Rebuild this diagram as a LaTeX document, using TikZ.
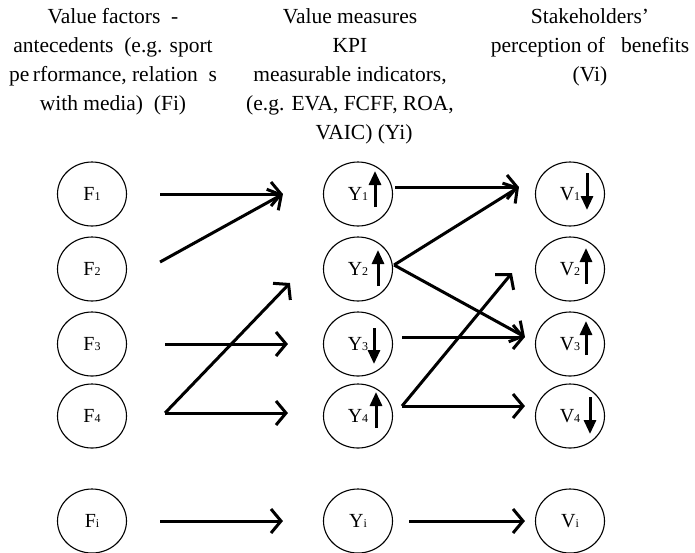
\documentclass[tikz,border=0pt]{standalone}
\usepackage{fontspec}
\setmainfont{Liberation Serif}
\usepackage{tikz}
\usetikzlibrary{shapes.geometric}
\usetikzlibrary{arrows.meta,arrows}

\tikzset{
  valnode/.style={draw, ellipse, line width=1.1pt, minimum width=69pt, minimum height=64pt, inner sep=0pt, font=\fontsize{20}{21}\selectfont},
  flow/.style={line width=3pt, -{Straight Barb[length=10pt,width=24pt,line width=3pt]}},
  trend/.style={line width=3pt, -{Triangle[length=14pt,width=12pt]}},
  head/.style={align=center, anchor=north, inner sep=0pt, font=\fontsize{21.5}{29}\selectfont}
}
\newcommand{\nsub}[1]{{\fontsize{12}{12}\selectfont #1}}

\begin{document}
\begin{tikzpicture}[x=1pt,y=-1pt]
    \useasboundingbox (0,0) rectangle (695,552);
    % Column Headings
    \node[head] (hf) at (113,8) {Value factors\ \ -\\antecedents\ \ (e.g. sport\\pe\,rformance, relation\ \ s\\with media)\ \ (Fi)};
    \node[head] (hy) at (350,8) {Value measures\\KPI\\measurable indicators,\\(e.g. EVA, FCFF, ROA,\\\hspace*{28pt}VAIC) (Yi)};
    \node[head] (hv) at (590,8) {Stakeholders’\\perception of\ \ \ benefits\\(Vi)};
    % Value Factors
    \node[valnode] (F1) at (92,194) {F\nsub{1}\hspace{6pt}};
    \node[valnode] (F2) at (92,269) {F\nsub{2}\hspace{6pt}};
    \node[valnode] (F3) at (92,344) {F\nsub{3}\hspace{6pt}};
    \node[valnode] (F4) at (92,416) {F\nsub{4}\hspace{6pt}};
    \node[valnode] (Fi) at (92,521) {F\nsub{i}\hspace{6pt}};
    % Value Measures
    \node[valnode] (Y1) at (358,194) {Y\nsub{1}\hspace{10pt}};
    \node[valnode] (Y2) at (358,269) {Y\nsub{2}\hspace{10pt}};
    \node[valnode] (Y3) at (358,344) {Y\nsub{3}\hspace{10pt}};
    \node[valnode] (Y4) at (358,416) {Y\nsub{4}\hspace{10pt}};
    \node[valnode] (Yi) at (358,521) {Y\nsub{i}};
    % Perceived Benefits
    \node[valnode] (V1) at (570,194) {V\nsub{1}\hspace{10pt}};
    \node[valnode] (V2) at (570,269) {V\nsub{2}\hspace{10pt}};
    \node[valnode] (V3) at (570,344) {V\nsub{3}\hspace{10pt}};
    \node[valnode] (V4) at (570,416) {V\nsub{4}\hspace{10pt}};
    \node[valnode] (Vi) at (570,521) {V\nsub{i}};
    %
    % Trends Inside the Nodes
    \draw[ trend] ([shift={(17,13)}]Y1.center) -- ++(0,-36);
    \draw[ trend] ([shift={(20,17)}]Y2.center) -- ++(0,-36);
    \draw[ trend] ([shift={(16,-16)}]Y3.center) -- ++(0,36);
    \draw[ trend] ([shift={(18,12)}]Y4.center) -- ++(0,-36);
    \draw[ trend] ([shift={(17,-21)}]V1.center) -- ++(0,37);
    \draw[ trend] ([shift={(16,15)}]V2.center) -- ++(0,-36);
    \draw[ trend] ([shift={(16,11)}]V3.center) -- ++(0,-34);
    \draw[ trend] ([shift={(20,-19)}]V4.center) -- ++(0,37);
    %
    % Connector End Points
    \coordinate (f1) at ([xshift=33]F1.east);
    \coordinate (f2) at ([shift={(33,-7)}]F2.east);
    \coordinate (f3) at ([xshift=38]F3.east);
    \coordinate (f4) at ([shift={(38,-3)}]F4.east);
    \coordinate (fi) at ([xshift=33]Fi.east);
    \coordinate (y1in) at ([xshift=-40]Y1.west);
    \coordinate (y2in) at ([shift={(-33,14)}]Y2.west);
    \coordinate (y3in) at ([xshift=-35]Y3.west);
    \coordinate (y4in) at ([shift={(-35,-3)}]Y4.west);
    \coordinate (yiin) at ([xshift=-40]Yi.west);
    \coordinate (y1out) at ([shift={(2,-7)}]Y1.east);
    \coordinate (y2out) at ([shift={(1,-4)}]Y2.east);
    \coordinate (y3out) at ([shift={(9,-7)}]Y3.east);
    \coordinate (y4out) at ([shift={(9,-10)}]Y4.east);
    \coordinate (yiout) at ([xshift=16]Yi.east);
    \coordinate (v1in) at ([shift={(-16,-7)}]V1.west);
    \coordinate (v2in) at ([shift={(-23,4)}]V2.west);
    \coordinate (v3in) at ([shift={(-10,-7)}]V3.west);
    \coordinate (v4in) at ([shift={(-10,-10)}]V4.west);
    \coordinate (viin) at ([xshift=-10]Vi.west);
    %
    % Factors to Measures
    \draw[ flow] (f1) -- (y1in);
    \draw[ flow] (f2) -- (y1in);
    \draw[ flow] (f3) -- (y3in);
    \draw[ flow] (f4) -- (y2in);
    \draw[ flow] (f4) -- (y4in);
    \draw[ flow] (fi) -- (yiin);
    % Measures to Benefits
    \draw[ flow] (y1out) -- (v1in);
    \draw[ flow] (y2out) -- (v1in);
    \draw[ flow] (y2out) -- (v3in);
    \draw[ flow] (y3out) -- (v3in);
    \draw[ flow] (y4out) -- (v2in);
    \draw[ flow] (y4out) -- (v4in);
    \draw[ flow] (yiout) -- (viin);
\end{tikzpicture}
\end{document}
